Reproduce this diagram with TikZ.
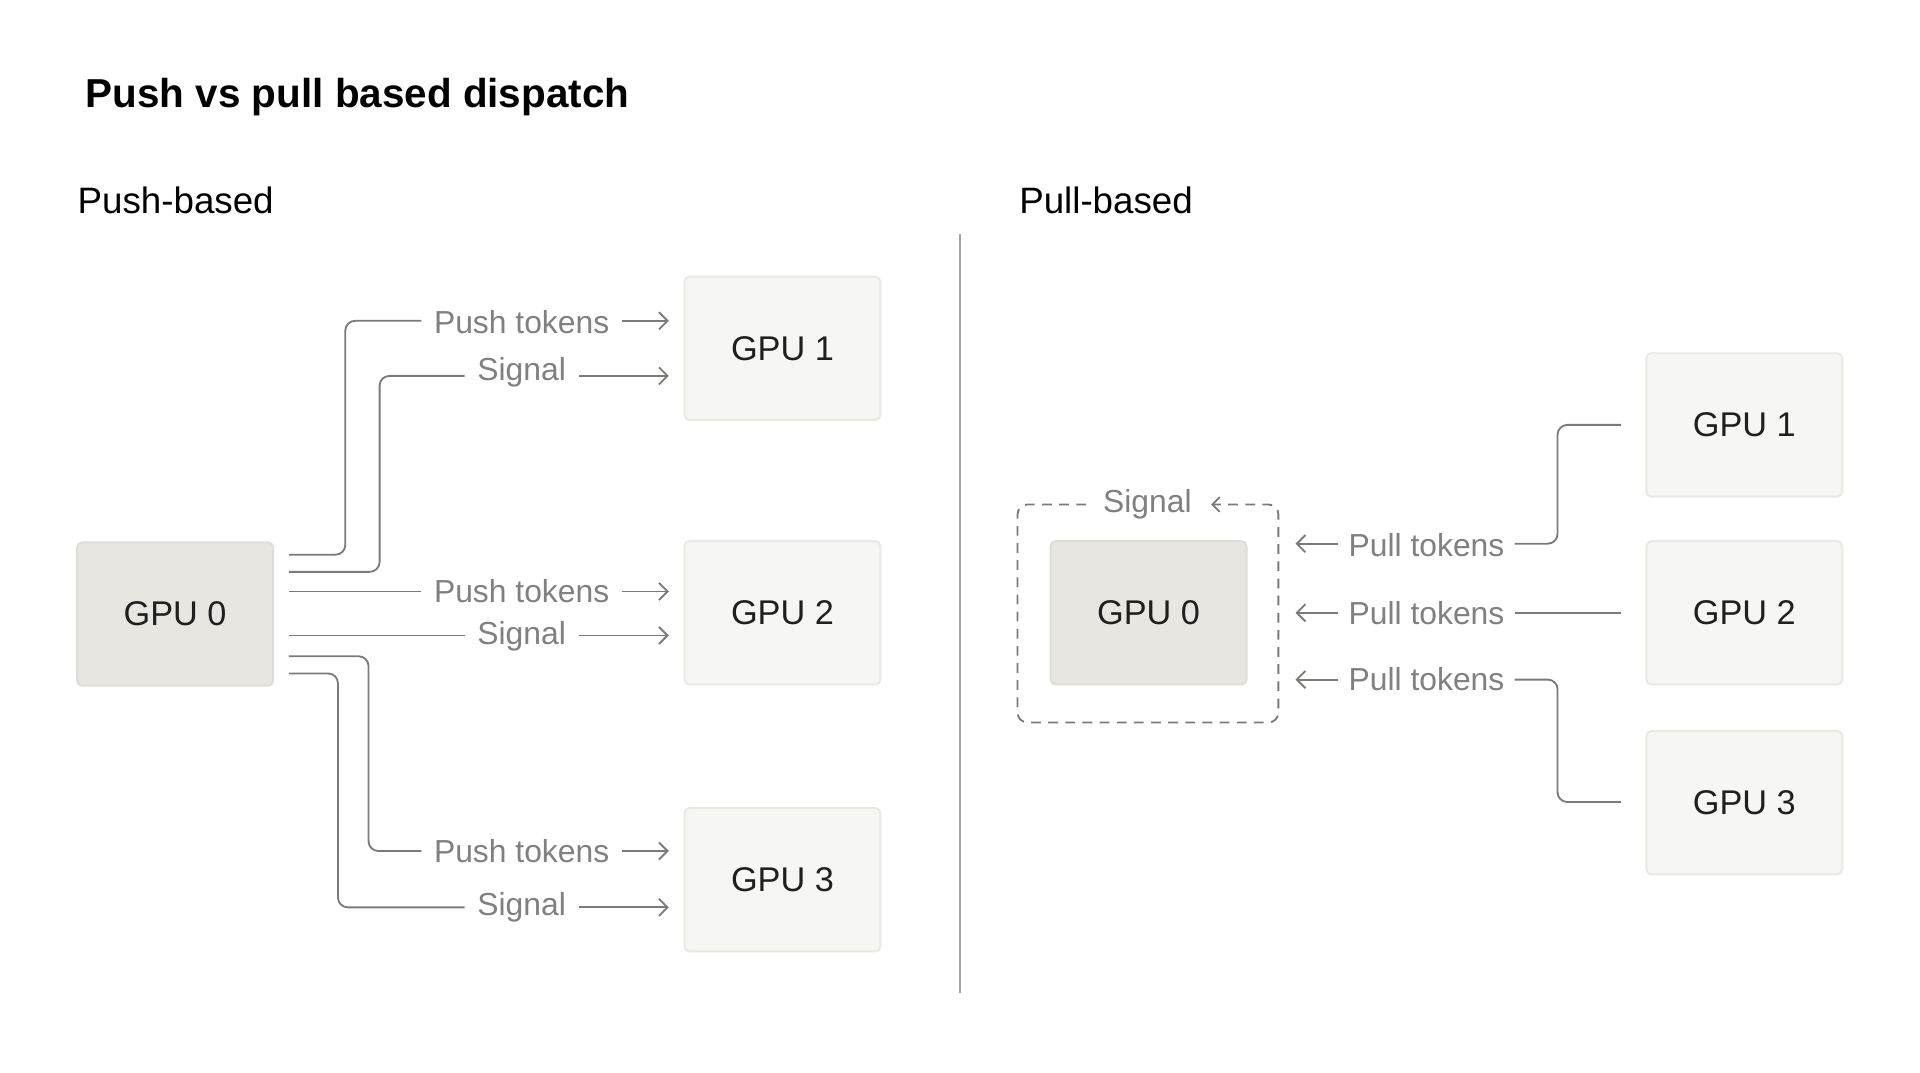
\documentclass[tikz,border=0pt]{standalone}
\usepackage{fontspec}
\setmainfont{Liberation Sans}
\usetikzlibrary{arrows.meta}
\definecolor{ln}{HTML}{7A7A76}
\definecolor{lab}{HTML}{808080}
\definecolor{boxa}{HTML}{F6F6F2}
\definecolor{boxb}{HTML}{E7E6E1}
\definecolor{bord}{HTML}{E9E9E3}
\tikzset{
  gpu/.style={draw=bord, line width=0.8pt, rounded corners=2pt, minimum width=80pt, minimum height=58.5pt, font=\fontsize{14}{16}\selectfont, text=black!88, inner sep=0pt},
  gpulight/.style={gpu, fill=boxa},
  gpudark/.style={gpu, fill=boxb, draw=bord!80!black!20!boxb},
  lbl/.style={font=\fontsize{13}{15}\selectfont, text=lab, inner sep=0pt},
  wire/.style={draw=ln, line width=0.75pt, rounded corners=4pt},
  arr/.style={wire, -{Straight Barb[length=3.5pt,width=7pt]}},
}
\begin{document}
\begin{tikzpicture}[x=0.5pt,y=-0.5pt]
\useasboundingbox (0,0) rectangle (1568,875.5);
\node[anchor=base west, font=\bfseries\fontsize{16.5}{18}\selectfont] (title) at (63,88) {Push vs pull based dispatch};
\node[anchor=base west, font=\fontsize{15}{17}\selectfont, inner sep=0pt] (pushh) at (63,174) {Push-based};
\node[anchor=base west, font=\fontsize{15}{17}\selectfont, inner sep=0pt] (pullh) at (832,174) {Pull-based};
\coordinate (d1) at (784,191); \coordinate (d2) at (784,811);
\draw[ln!70, line width=0.6pt] (d1) -- (d2);

% left
\node[gpudark] (L0) at (143,501.5) {GPU 0};
\node[gpulight] (L1) at (639,284.5) {GPU 1};
\node[gpulight] (L2) at (639,500.5) {GPU 2};
\node[gpulight] (L3) at (639,718.5) {GPU 3};

\node[lbl] (p1) at (426,263) {Push tokens};
\node[lbl] (s1) at (426,304) {Signal};
\node[lbl] (p2) at (426,483) {Push tokens};
\node[lbl] (s2) at (426,520) {Signal};
\node[lbl] (p3) at (426,695) {Push tokens};
\node[lbl] (s3) at (426,741) {Signal};

\coordinate (a1) at (236,453); \coordinate (a2) at (236,467);
\coordinate (a3) at (236,483); \coordinate (a4) at (236,519);
\coordinate (a5) at (236,536); \coordinate (a6) at (236,550);
\draw[wire] (a1) -- (282,453) -- (282,262) -- ([xshift=-5pt]p1.west |- 0,262);
\draw[wire] (a2) -- (310,467) -- (310,307) -- ([xshift=-5pt]s1.west |- 0,307);
\draw[wire] (a3) -- ([xshift=-5pt]p2.west |- 0,483);
\draw[wire] (a4) -- ([xshift=-5pt]s2.west |- 0,519);
\draw[wire] (a5) -- (301,536) -- (301,695) -- ([xshift=-5pt]p3.west |- 0,695);
\draw[wire] (a6) -- (276,550) -- (276,741) -- ([xshift=-5pt]s3.west |- 0,741);
\draw[arr] ([xshift=5pt]p1.east |- 0,262) -- ([xshift=-6pt]L1.west |- 0,262);
\draw[arr] ([xshift=5pt]s1.east |- 0,307) -- ([xshift=-6pt]L1.west |- 0,307);
\draw[arr] ([xshift=5pt]p2.east |- 0,483) -- ([xshift=-6pt]L2.west |- 0,483);
\draw[arr] ([xshift=5pt]s2.east |- 0,519) -- ([xshift=-6pt]L2.west |- 0,519);
\draw[arr] ([xshift=5pt]p3.east |- 0,695) -- ([xshift=-6pt]L3.west |- 0,695);
\draw[arr] ([xshift=5pt]s3.east |- 0,741) -- ([xshift=-6pt]L3.west |- 0,741);

% right
\node[gpudark] (R0) at (938,500.5) {GPU 0};
\node[gpulight] (R1) at (1424.5,347) {GPU 1};
\node[gpulight] (R2) at (1424.5,500.5) {GPU 2};
\node[gpulight] (R3) at (1424.5,655.5) {GPU 3};

\node[lbl] (sig) at (937,412) {Signal};
\coordinate (bxl) at (887,412);
\coordinate (bxr) at (1044,412);
\draw[ln, line width=0.75pt, dashed, dash pattern=on 4pt off 3pt, rounded corners=4pt]
  (bxl) -- (831,412) -- (831,590) -- (1044,590) -- (bxr) -- (990,412);
\draw[ln, line width=0.75pt, -{Straight Barb[length=3pt,width=6pt]}] (995,412) -- (989,412);

\node[lbl] (q1) at (1165,445) {Pull tokens};
\node[lbl] (q2) at (1165,501) {Pull tokens};
\node[lbl] (q3) at (1165,555) {Pull tokens};
\draw[wire] ([xshift=-10pt]R1.west) -- (1272,347) -- (1272,444) -- ([xshift=4pt]q1.east |- 0,444);
\draw[wire] ([xshift=-10pt]R2.west) -- ([xshift=4pt]q2.east |- 0,500.5);
\draw[wire] ([xshift=-10pt]R3.west |- 0,655) -- (1272,655) -- (1272,555) -- ([xshift=4pt]q3.east |- 0,555);
\draw[arr] ([xshift=-4pt]q1.west |- 0,444) -- (1058,444);
\draw[arr] ([xshift=-4pt]q2.west |- 0,500.5) -- (1058,500.5);
\draw[arr] ([xshift=-4pt]q3.west |- 0,555) -- (1058,555);
\end{tikzpicture}
\end{document}
